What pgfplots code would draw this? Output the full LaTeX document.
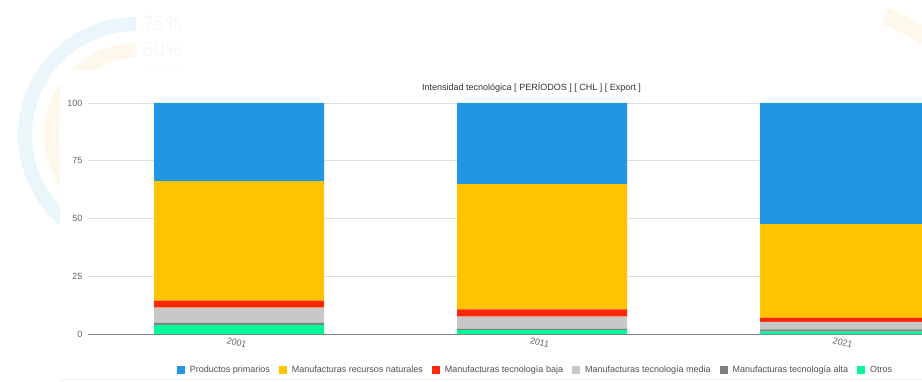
\documentclass[border=0pt]{standalone}
\usepackage{fontspec}
\setmainfont{Liberation Sans}
\newfontfamily\gaugefont{Open Sans}
\usepackage{pgfplots}
\pgfplotsset{compat=1.18}
\definecolor{cPrim}{RGB}{33,150,227}
\definecolor{cRec}{RGB}{255,195,0}
\definecolor{cBaja}{RGB}{255,40,0}
\definecolor{cMedia}{RGB}{200,200,200}
\definecolor{cAlta}{RGB}{128,128,128}
\definecolor{cOtros}{RGB}{0,250,154}
\definecolor{gridc}{RGB}{222,222,222}
\definecolor{axisc}{RGB}{128,128,128}
\definecolor{tickc}{RGB}{102,102,102}
\definecolor{titlec}{RGB}{51,51,51}
\definecolor{legc}{RGB}{80,80,80}
\definecolor{gblue}{RGB}{234,246,250}
\definecolor{gbeige}{RGB}{254,247,235}
\definecolor{gtext}{RGB}{247,247,247}
\definecolor{panelline}{RGB}{242,242,242}
\begin{document}
\begin{tikzpicture}[x=1pt,y=1pt]
\useasboundingbox (0,0) rectangle (922,381);
\clip (0,0) rectangle (922,381);
% faint background gauges
\draw[gblue, line width=14pt] (136,357) arc[start angle=90, end angle=270, radius=111pt];
\draw[gbeige, line width=15pt] (136,330.5) arc[start angle=90, end angle=270, radius=84.5pt];
\node[anchor=base west, inner sep=0pt, text=gtext, font=\gaugefont\fontsize{20}{20}\selectfont] at (142,350) {75\%};
\node[anchor=base west, inner sep=0pt, text=gtext, font=\gaugefont\fontsize{20}{20}\selectfont] at (142,324) {60\%};
\node[anchor=base west, inner sep=0pt, text=gtext, font=\gaugefont\fontsize{20}{20}\selectfont] at (142,298) {40\%};
\draw[gbeige, line width=17pt] (767.3,89.3) ++(67:300pt) arc[start angle=67, end angle=40, radius=300pt];
% white chart panel
\fill[white] (60,0) rectangle (922,311);
\draw[panelline, line width=1pt] (60,1.5) -- (922,1.5);
% title
\node[font=\fontsize{9}{11}\selectfont, text=titlec] at (531.5,293) {Intensidad tecnológica [ PERÍODOS ] [ CHL ] [ Export ]};
\begin{axis}[
  at={(87.5pt,47pt)}, anchor=south west,
  width=909pt, height=231pt, scale only axis,
  xmin=-0.5, xmax=2.5, ymin=0, ymax=100,
  enlarge x limits=false,
  ybar stacked, bar width=170pt,
  xtick={0,1,2}, xticklabels={2001,2011,2021},
  ytick={0,25,50,75,100},
  /pgf/number format/assume math mode=true,
  ymajorgrids, grid style={gridc, line width=0.8pt},
  axis x line*=bottom, axis y line*=left,
  x axis line style={axisc, line width=1pt, -},
  y axis line style={draw=none},
  major tick length=0pt,
  xtick style={draw=none}, ytick style={draw=none},
  yticklabel style={font=\fontsize{9}{11}\selectfont, text=tickc, anchor=east, inner sep=0pt, xshift=-4.8pt},
  xticklabel style={font=\fontsize{9}{11}\selectfont, text=tickc, rotate=-15, anchor=center, inner sep=0pt, yshift=-9pt},
  reverse legend,
  legend columns=-1,
  legend style={at={(0.0981,-0.1558)}, anchor=west, draw=none, fill=none,
    font=\fontsize{9}{11}\selectfont, text=legc, inner sep=0pt,
    nodes={inner sep=0pt},
    /tikz/every odd column/.append style={column sep=5pt},
    /tikz/every even column/.append style={column sep=9pt}},
  legend image code/.code={\fill[#1] (0pt,-4pt) rectangle (8pt,4pt);},
]
\addplot[fill=cOtros, draw=none] coordinates {(0,4.0) (1,1.7) (2,1.0)};
\addplot[fill=cAlta, draw=none] coordinates {(0,0.9) (1,0.6) (2,1.0)};
\addplot[fill=cMedia, draw=none] coordinates {(0,6.5) (1,5.2) (2,3.3)};
\addplot[fill=cBaja, draw=none] coordinates {(0,3.0) (1,3.2) (2,1.8)};
\addplot[fill=cRec, draw=none] coordinates {(0,51.8) (1,54.2) (2,40.5)};
\addplot[fill=cPrim, draw=none] coordinates {(0,33.8) (1,35.1) (2,52.4)};
\legend{Otros, Manufacturas tecnología alta, Manufacturas tecnología media, Manufacturas tecnología baja, Manufacturas recursos naturales, Productos primarios}
\end{axis}
\end{tikzpicture}
\end{document}
